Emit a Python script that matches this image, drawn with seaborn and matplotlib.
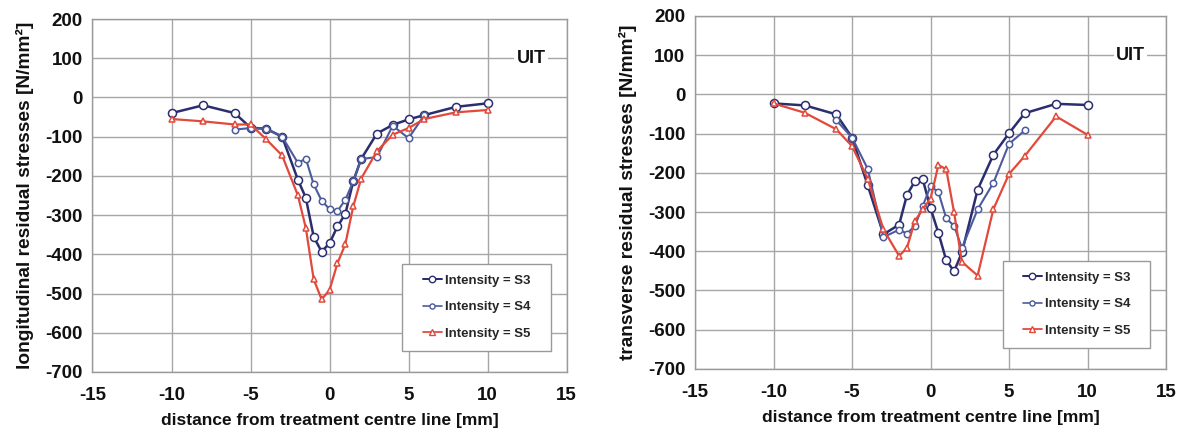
import matplotlib
matplotlib.use("Agg")
import matplotlib.pyplot as plt
from matplotlib.lines import Line2D
from matplotlib.patches import Rectangle
import seaborn as sns
import pandas as pd

# Measurement positions [mm]
x_full = [-10, -8, -6, -5, -4, -3, -2, -1.5, -1, -0.5, 0, 0.5, 1, 1.5, 2, 3, 4, 5, 6, 8, 10]
x_s4 = [-6, -5, -4, -3, -2, -1.5, -1, -0.5, 0, 0.5, 1, 1.5, 2, 3, 4, 5, 6]

# Longitudinal residual stresses [N/mm²]
long_s3 = [-40, -20, -40, -77, -80, -100, -210, -256, -356, -393, -372, -329, -297, -214, -157, -92, -70, -56, -45, -24, -15]
long_s4 = [-82, -78, -80, -100, -167, -156, -222, -263, -285, -290, -261, -214, -157, -152, -72, -104, -45]
long_s5 = [-55, -61, -69, -69, -107, -148, -250, -333, -464, -515, -491, -423, -374, -278, -207, -137, -95, -78, -55, -38, -32]

# Transverse residual stresses [N/mm²]
trans_s3 = [-23, -28, -51, -110, -232, -357, -332, -256, -222, -216, -290, -353, -423, -451, -403, -243, -154, -99, -48, -24, -27]
trans_s4 = [-66, -110, -190, -364, -345, -355, -335, -285, -234, -249, -316, -335, -392, -293, -226, -126, -92]
trans_s5 = [-23, -47, -89, -132, -215, -344, -412, -391, -323, -293, -266, -180, -191, -301, -427, -462, -293, -203, -157, -56, -103]

series_labels = ["Intensity = S3", "Intensity = S4", "Intensity = S5"]
x_ticks = [-15, -10, -5, 0, 5, 10, 15]
y_ticks = [200, 100, 0, -100, -200, -300, -400, -500, -600, -700]

sns.set_theme(style="white")
plt.rcParams["font.family"] = ["Liberation Sans", "DejaVu Sans"]
plt.rcParams["font.weight"] = "bold"
plt.rcParams["axes.unicode_minus"] = False

c_s3 = "#2a2e6e"
c_s4 = "#4d5b9c"
c_s5 = "#e2493b"
styles = [
    dict(color=c_s3, marker="o", ms=5.8, lw=1.8),
    dict(color=c_s4, marker="o", ms=4.6, lw=1.5),
    dict(color=c_s5, marker="^", ms=5.0, lw=1.6),
]

fig = plt.figure(figsize=(11.92, 4.32), dpi=100)
ax_l = fig.add_axes([0.0776, 0.139, 0.3977, 0.817])
ax_r = fig.add_axes([0.5831, 0.146, 0.3951, 0.817])

panels = [
    (ax_l, [(x_full, long_s3), (x_s4, long_s4), (x_full, long_s5)],
     "longitudinal residual stresses [N/mm²]"),
    (ax_r, [(x_full, trans_s3), (x_s4, trans_s4), (x_full, trans_s5)],
     "transverse residual stresses [N/mm²]"),
]

# legend box (axes fraction): x0, y0, width, height
box = (0.653, 0.06, 0.314, 0.247)

for ax, data, ylabel in panels:
    for (xs, ys), st, lab in zip(data, styles, series_labels):
        df = pd.DataFrame({"x": xs, "y": ys})
        sns.lineplot(data=df, x="x", y="y", ax=ax, sort=False, color=st["color"],
                     marker=st["marker"], markersize=st["ms"], linewidth=st["lw"],
                     markerfacecolor="white", markeredgecolor=st["color"],
                     markeredgewidth=1.1, label=lab, legend=False, zorder=3)
    ax.set_xlim(-15, 15)
    ax.set_ylim(-700, 200)
    ax.set_xticks(x_ticks)
    ax.set_yticks(y_ticks)
    ax.grid(True, color="#a6a6a6", linewidth=1.0, zorder=0)
    ax.set_axisbelow(True)
    for sp in ax.spines.values():
        sp.set_color("#9a9a9a")
        sp.set_linewidth(1.0)
    ax.tick_params(axis="both", which="both", direction="out", length=4,
                   width=1.0, color="#9a9a9a", labelsize=13.5,
                   labelcolor="#111111")
    ax.tick_params(axis="x", pad=7)
    ax.tick_params(axis="y", pad=3)
    for t in ax.get_xticklabels() + ax.get_yticklabels():
        t.set_fontweight("bold")
    ax.set_xlabel("distance from treatment centre line [mm]", fontsize=12.5,
                  fontweight="bold", color="#111111", labelpad=6)
    ax.set_ylabel(ylabel, fontsize=13.8, fontweight="bold", color="#111111",
                  labelpad=8)
    ax.text(12.75, 100, "UIT", ha="center", va="center", fontsize=13,
            fontweight="bold", color="#111111", zorder=2,
            bbox=dict(facecolor="white", edgecolor="none", pad=1.5))

    # legend frame
    ax.add_patch(Rectangle((box[0], box[1]), box[2], box[3],
                           transform=ax.transAxes, facecolor="white",
                           edgecolor="#9a9a9a", linewidth=1.0, zorder=4))
    handles = [Line2D([], [], color=st["color"], marker=st["marker"],
                      markersize=st["ms"] * 0.8, linewidth=st["lw"] * 0.8,
                      markerfacecolor="white", markeredgecolor=st["color"])
               for st in styles]
    leg = ax.legend(handles, series_labels, loc="center",
                    bbox_to_anchor=(box[0] + box[2] / 2, box[1] + box[3] / 2),
                    frameon=False, prop=dict(weight="bold", size=9.5),
                    handlelength=1.5, handletextpad=0.2, labelspacing=1.1,
                    borderpad=0, borderaxespad=0)
    leg.set_zorder(5)

fig.savefig("out.png", dpi=100)
